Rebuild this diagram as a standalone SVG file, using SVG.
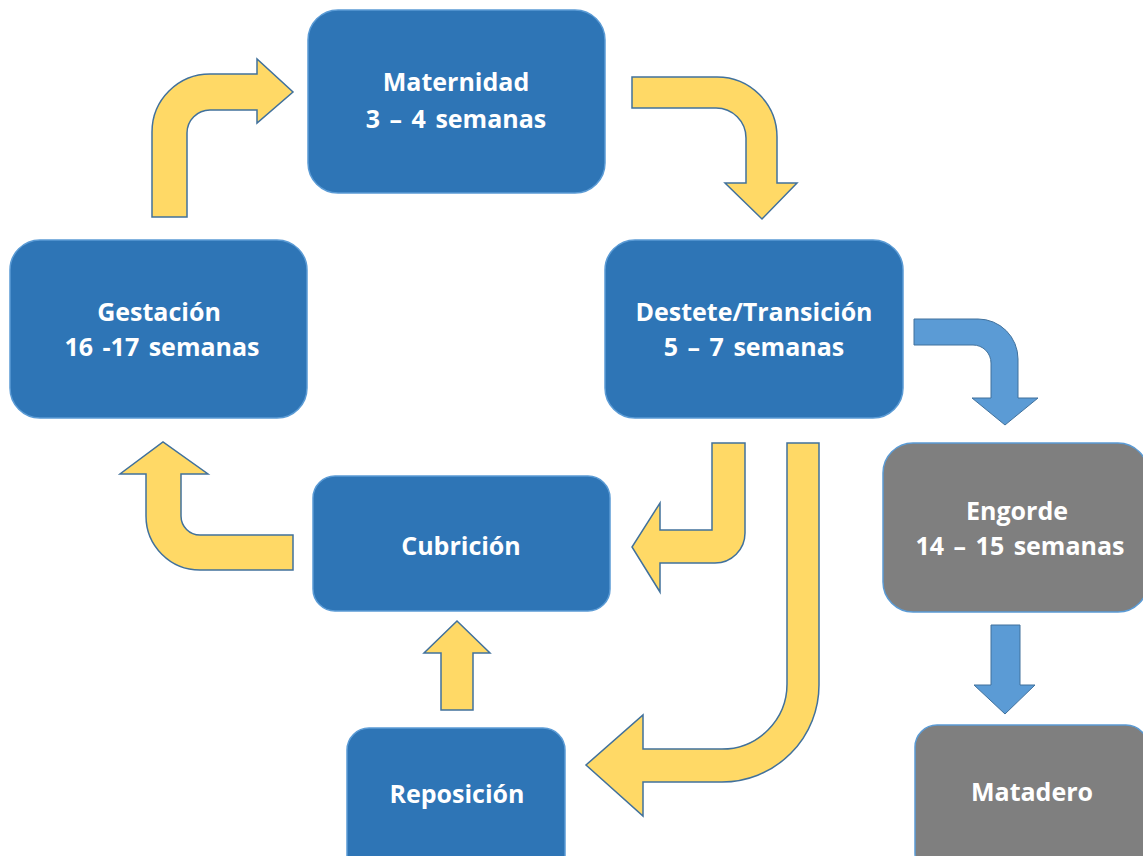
<svg xmlns="http://www.w3.org/2000/svg" width="1143" height="856" viewBox="0 0 1143 856">
  <style>
    .box { fill: #2E75B6; stroke: #5B9BD5; stroke-width: 1.5; }
    .grey { fill: #7F7F7F; stroke: #5B9BD5; stroke-width: 1.5; }
    .lbl { font-family: "Open Sans", Lato, "Liberation Sans", sans-serif; font-weight: bold; font-size: 25px; fill: #FFFFFF; text-anchor: middle; }
    .wide { word-spacing: 3px; }
    .ya { fill: #FFD966; stroke: #41719C; stroke-width: 1.5; stroke-linejoin: miter; }
    .ba { fill: #5B9BD5; stroke: #41719C; stroke-width: 1; }
  </style>
  <rect width="1143" height="856" fill="#FFFFFF"/>

  <!-- process arrows -->
  <g id="connectors">
    <!-- Gestación to Maternidad -->
    <path class="ya" d="M152,217 L152,132 A58,58 0 0 1 210,74 L257,74 L257,59 L293,92 L257,123 L257,110 L210,110 A23,23 0 0 0 187,133 L187,217 Z"/>
    <!-- Maternidad to Destete -->
    <path class="ya" d="M632,77 L717,77 A60,60 0 0 1 777,137 L777,183 L797,183 L762,219 L725,183 L746,183 L746,138 A30,30 0 0 0 716,108 L632,108 Z"/>
    <!-- Destete to Engorde -->
    <path class="ba" d="M914,319 L978,319 A40,40 0 0 1 1018,359 L1018,398 L1038,398 L1005,425 L972,398 L991,398 L991,363 A18,18 0 0 0 973,345 L914,345 Z"/>
    <!-- Destete to Cubrición -->
    <path class="ya" d="M712,443 L745,443 L745,533 A30,30 0 0 1 715,563 L660,563 L660,592 L632,547 L660,503 L660,530 L712,530 Z"/>
    <!-- Destete to Reposición -->
    <path class="ya" d="M787,443 L819,443 L819,685 A97,97 0 0 1 722,782 L643,782 L643,816 L586,765 L643,715 L643,749 L722,749 A65,65 0 0 0 787,684 Z"/>
    <!-- Cubrición to Gestación -->
    <path class="ya" d="M293,535 L200,535 A19,19 0 0 1 181,516 L181,474 L208,474 L163,442 L120,474 L146,474 L146,516 A54,54 0 0 0 200,570 L293,570 Z"/>
    <!-- Reposición to Cubrición -->
    <path class="ya" d="M441,710 L441,653 L424,653 L457,621 L490,653 L473,653 L473,710 Z"/>
    <!-- Engorde to Matadero -->
    <path class="ba" d="M991,625 L1020,625 L1020,685 L1035,685 L1005,714 L974,685 L991,685 Z"/>
  </g>

  <g id="maternidad">
    <rect class="box" x="308" y="10" width="297" height="183" rx="30"/>
    <text class="lbl" x="456" y="91">Maternidad</text>
    <text class="lbl wide" x="456" y="128">3 – 4 semanas</text>
  </g>
  <g id="gestacion">
    <rect class="box" x="10" y="240" width="297" height="178" rx="30"/>
    <text class="lbl" x="159" y="321">Gestación</text>
    <text class="lbl wide" x="162" y="356">16 -17 semanas</text>
  </g>
  <g id="destete">
    <rect class="box" x="605" y="240" width="298" height="178" rx="30"/>
    <text class="lbl" x="754" y="321">Destete/Transición</text>
    <text class="lbl wide" x="754" y="356">5 – 7 semanas</text>
  </g>
  <g id="cubricion">
    <rect class="box" x="313" y="476" width="297" height="135" rx="22"/>
    <text class="lbl" x="461" y="555">Cubrición</text>
  </g>
  <g id="reposicion">
    <rect class="box" x="347" y="728" width="218" height="150" rx="22"/>
    <text class="lbl" x="457" y="803">Reposición</text>
  </g>
  <g id="engorde">
    <rect class="grey" x="883" y="443" width="265" height="169" rx="30"/>
    <text class="lbl" x="1017" y="520">Engorde</text>
    <text class="lbl wide" x="1020" y="555">14 – 15 semanas</text>
  </g>
  <g id="matadero">
    <rect class="grey" x="915" y="725" width="233" height="150" rx="22"/>
    <text class="lbl" x="1032" y="801">Matadero</text>
  </g>
</svg>
